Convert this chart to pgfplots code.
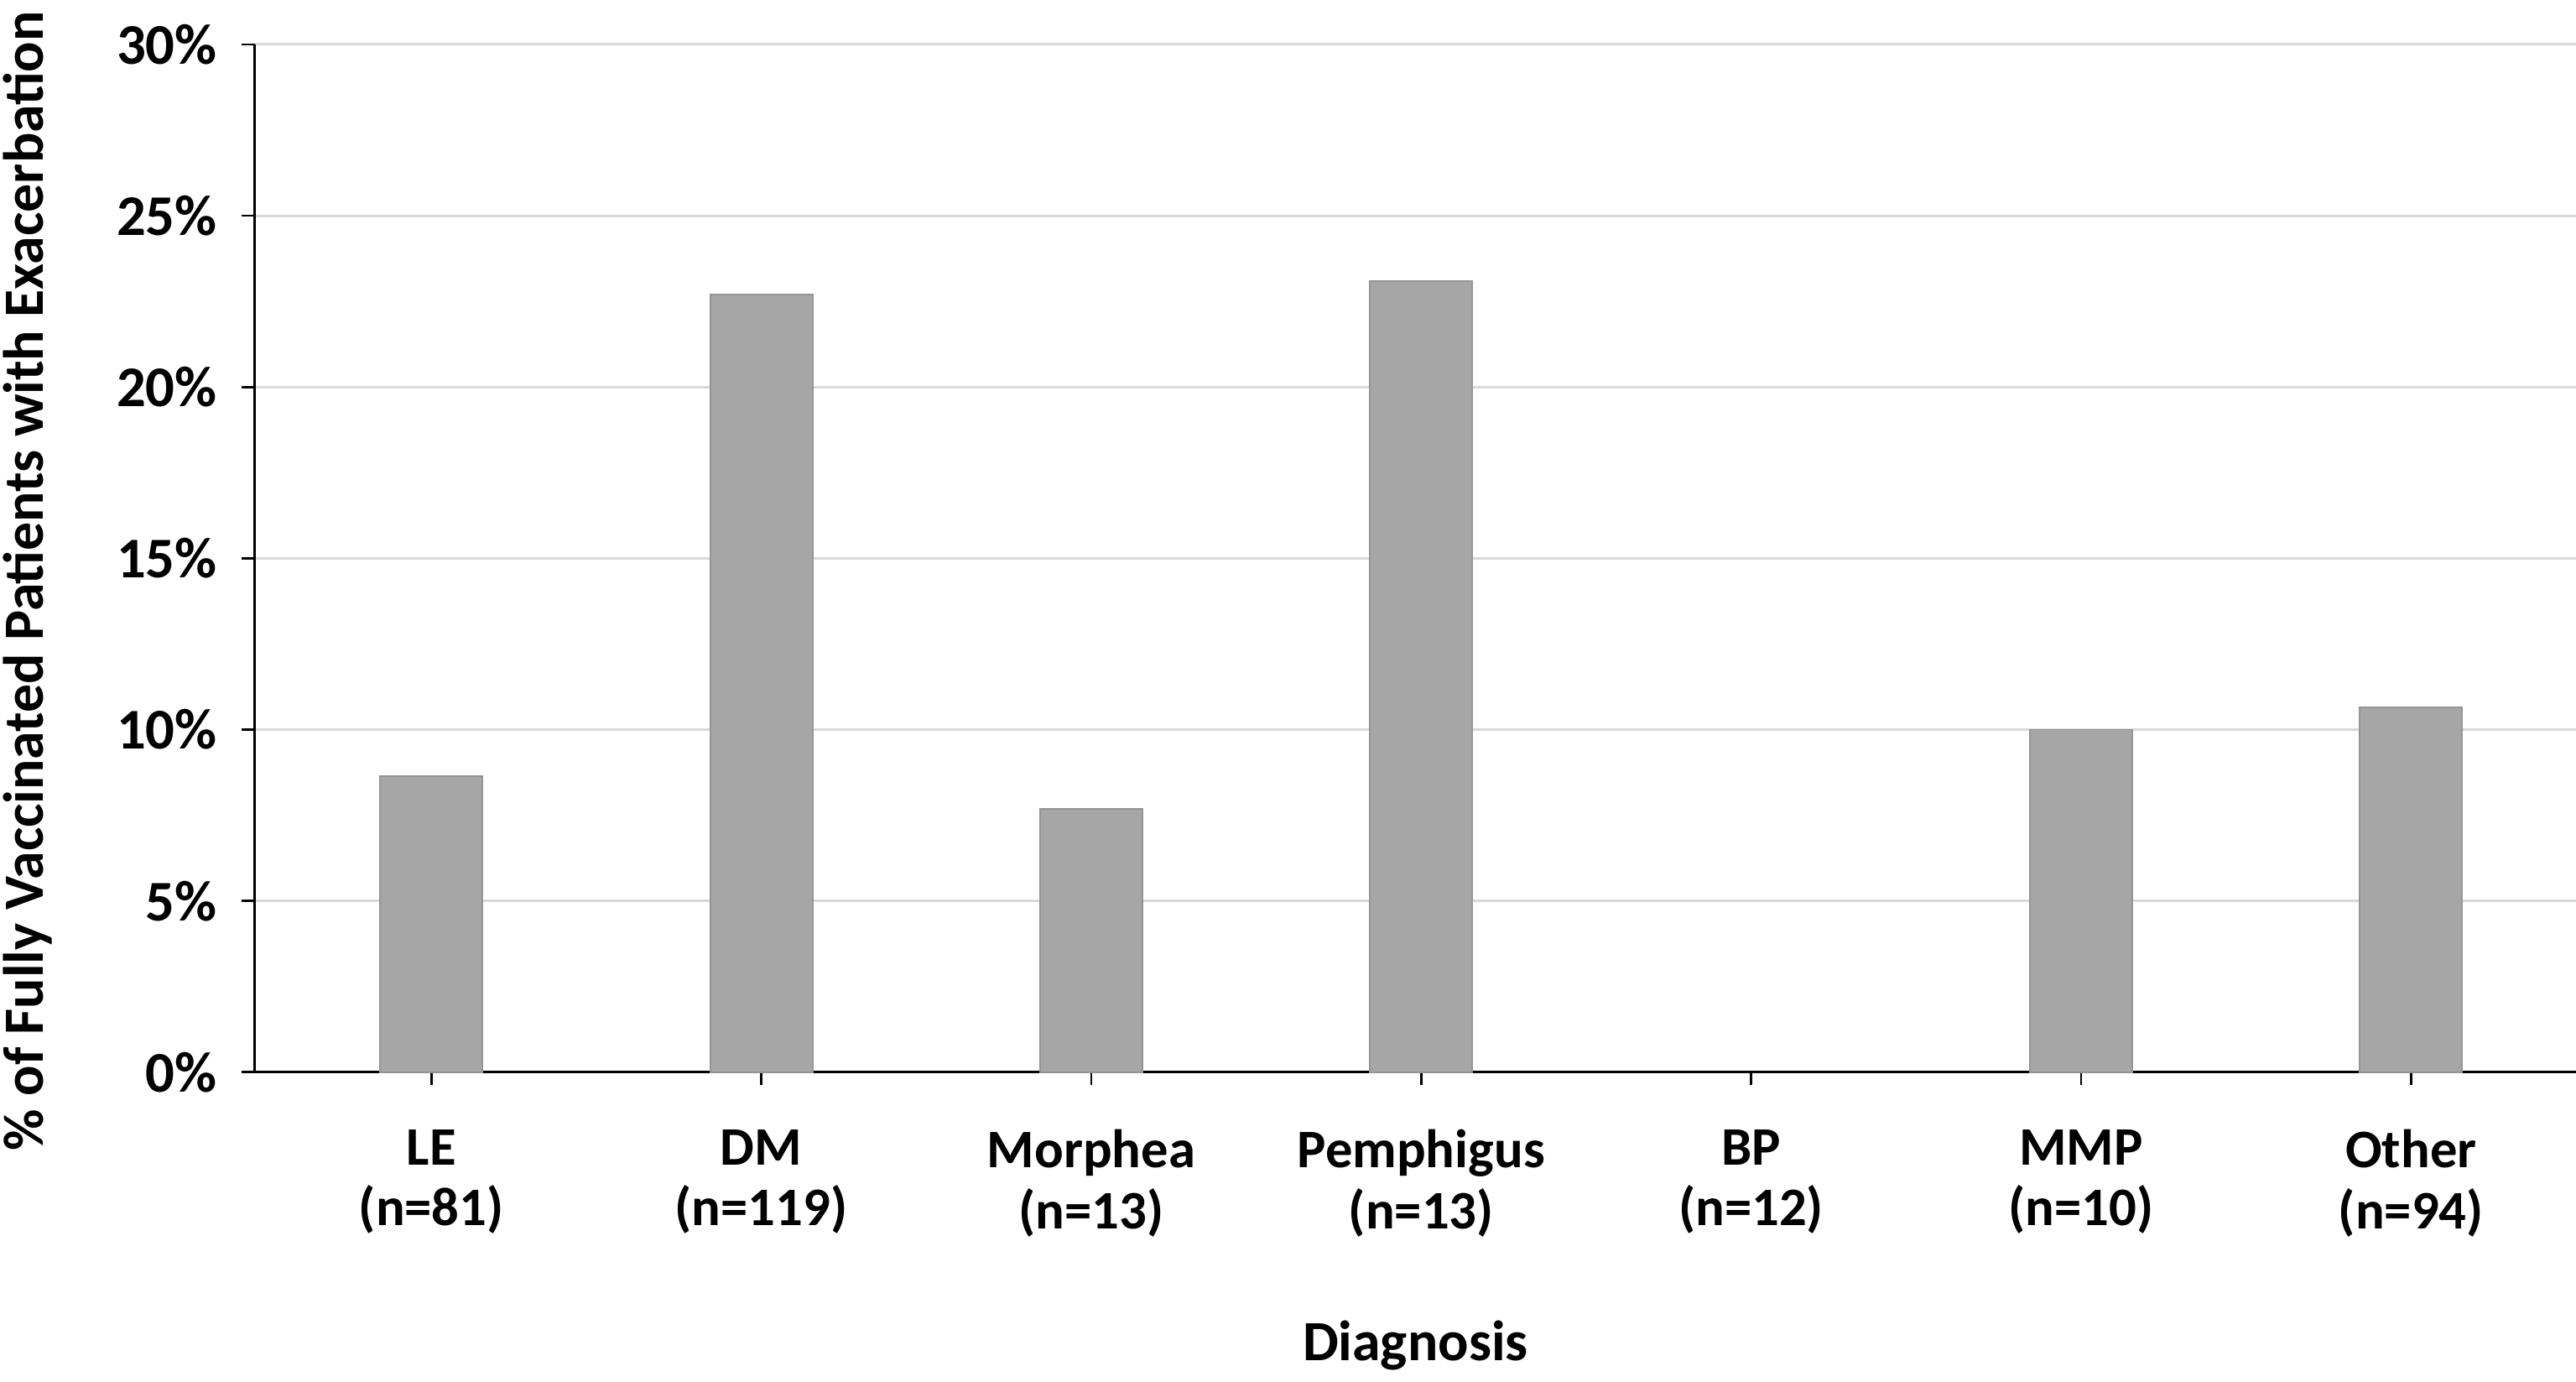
\documentclass[border=0pt]{standalone}
\usepackage{pgfplots}
\pgfplotsset{compat=1.18}
\usepackage{fontspec}
\setmainfont{Carlito}
\definecolor{barfill}{HTML}{A6A6A6}
\definecolor{baredge}{HTML}{959595}
\definecolor{gridc}{HTML}{D9D9D9}
\begin{document}
\begin{tikzpicture}
\begin{axis}[
  at={(0,0)}, anchor=south west,
  scale only axis,
  width=706pt, height=312.5pt,
  xmin=-0.535, xmax=6.5,
  ymin=0, ymax=30,
  axis x line*=bottom, axis y line*=left,
  axis line style={black, line width=0.7pt},
  ytick={0,5,10,15,20,25,30},
  yticklabel={\pgfmathprintnumber{\tick}\%},
  /pgf/number format/assume math mode=true,
  xtick={0,1,2,3,4,5,6},
  xticklabels={{LE\\(n=81)},{DM\\(n=119)},{Morphea\\(n=13)},{Pemphigus\\(n=13)},{BP\\(n=12)},{MMP\\(n=10)},{Other\\(n=94)}},
  xticklabel style={align=center, font=\fontsize{16.5}{18.5}\selectfont\bfseries, yshift=-10pt},
  yticklabel style={font=\fontsize{17.5}{19}\selectfont\bfseries, xshift=-4pt},
  tick style={black, line width=0.7pt},
  major tick length=4pt,
  tick align=outside,
  ymajorgrids,
  grid style={gridc, line width=0.75pt},
  xlabel={Diagnosis},
  ylabel={\% of Fully Vaccinated Patients with Exacerbation},
  every axis x label/.style={at={(axis description cs:0.5,-0.266)}, anchor=center, font=\fontsize{17.3}{20}\selectfont\bfseries},
  every axis y label/.style={at={(axis description cs:-0.0978,0.478)}, anchor=center, rotate=90, font=\fontsize{17.3}{20}\selectfont\bfseries},
  clip=false,
]
\addplot[ybar, bar width=0.31, fill=barfill, draw=baredge, line width=0.5pt]
  coordinates {(0,8.64) (1,22.69) (2,7.69) (3,23.08) (5,10.0) (6,10.64)};
\end{axis}
\pgfresetboundingbox
\path (-77.5pt,-94pt) rectangle (706pt,326pt);
\end{tikzpicture}
\end{document}
